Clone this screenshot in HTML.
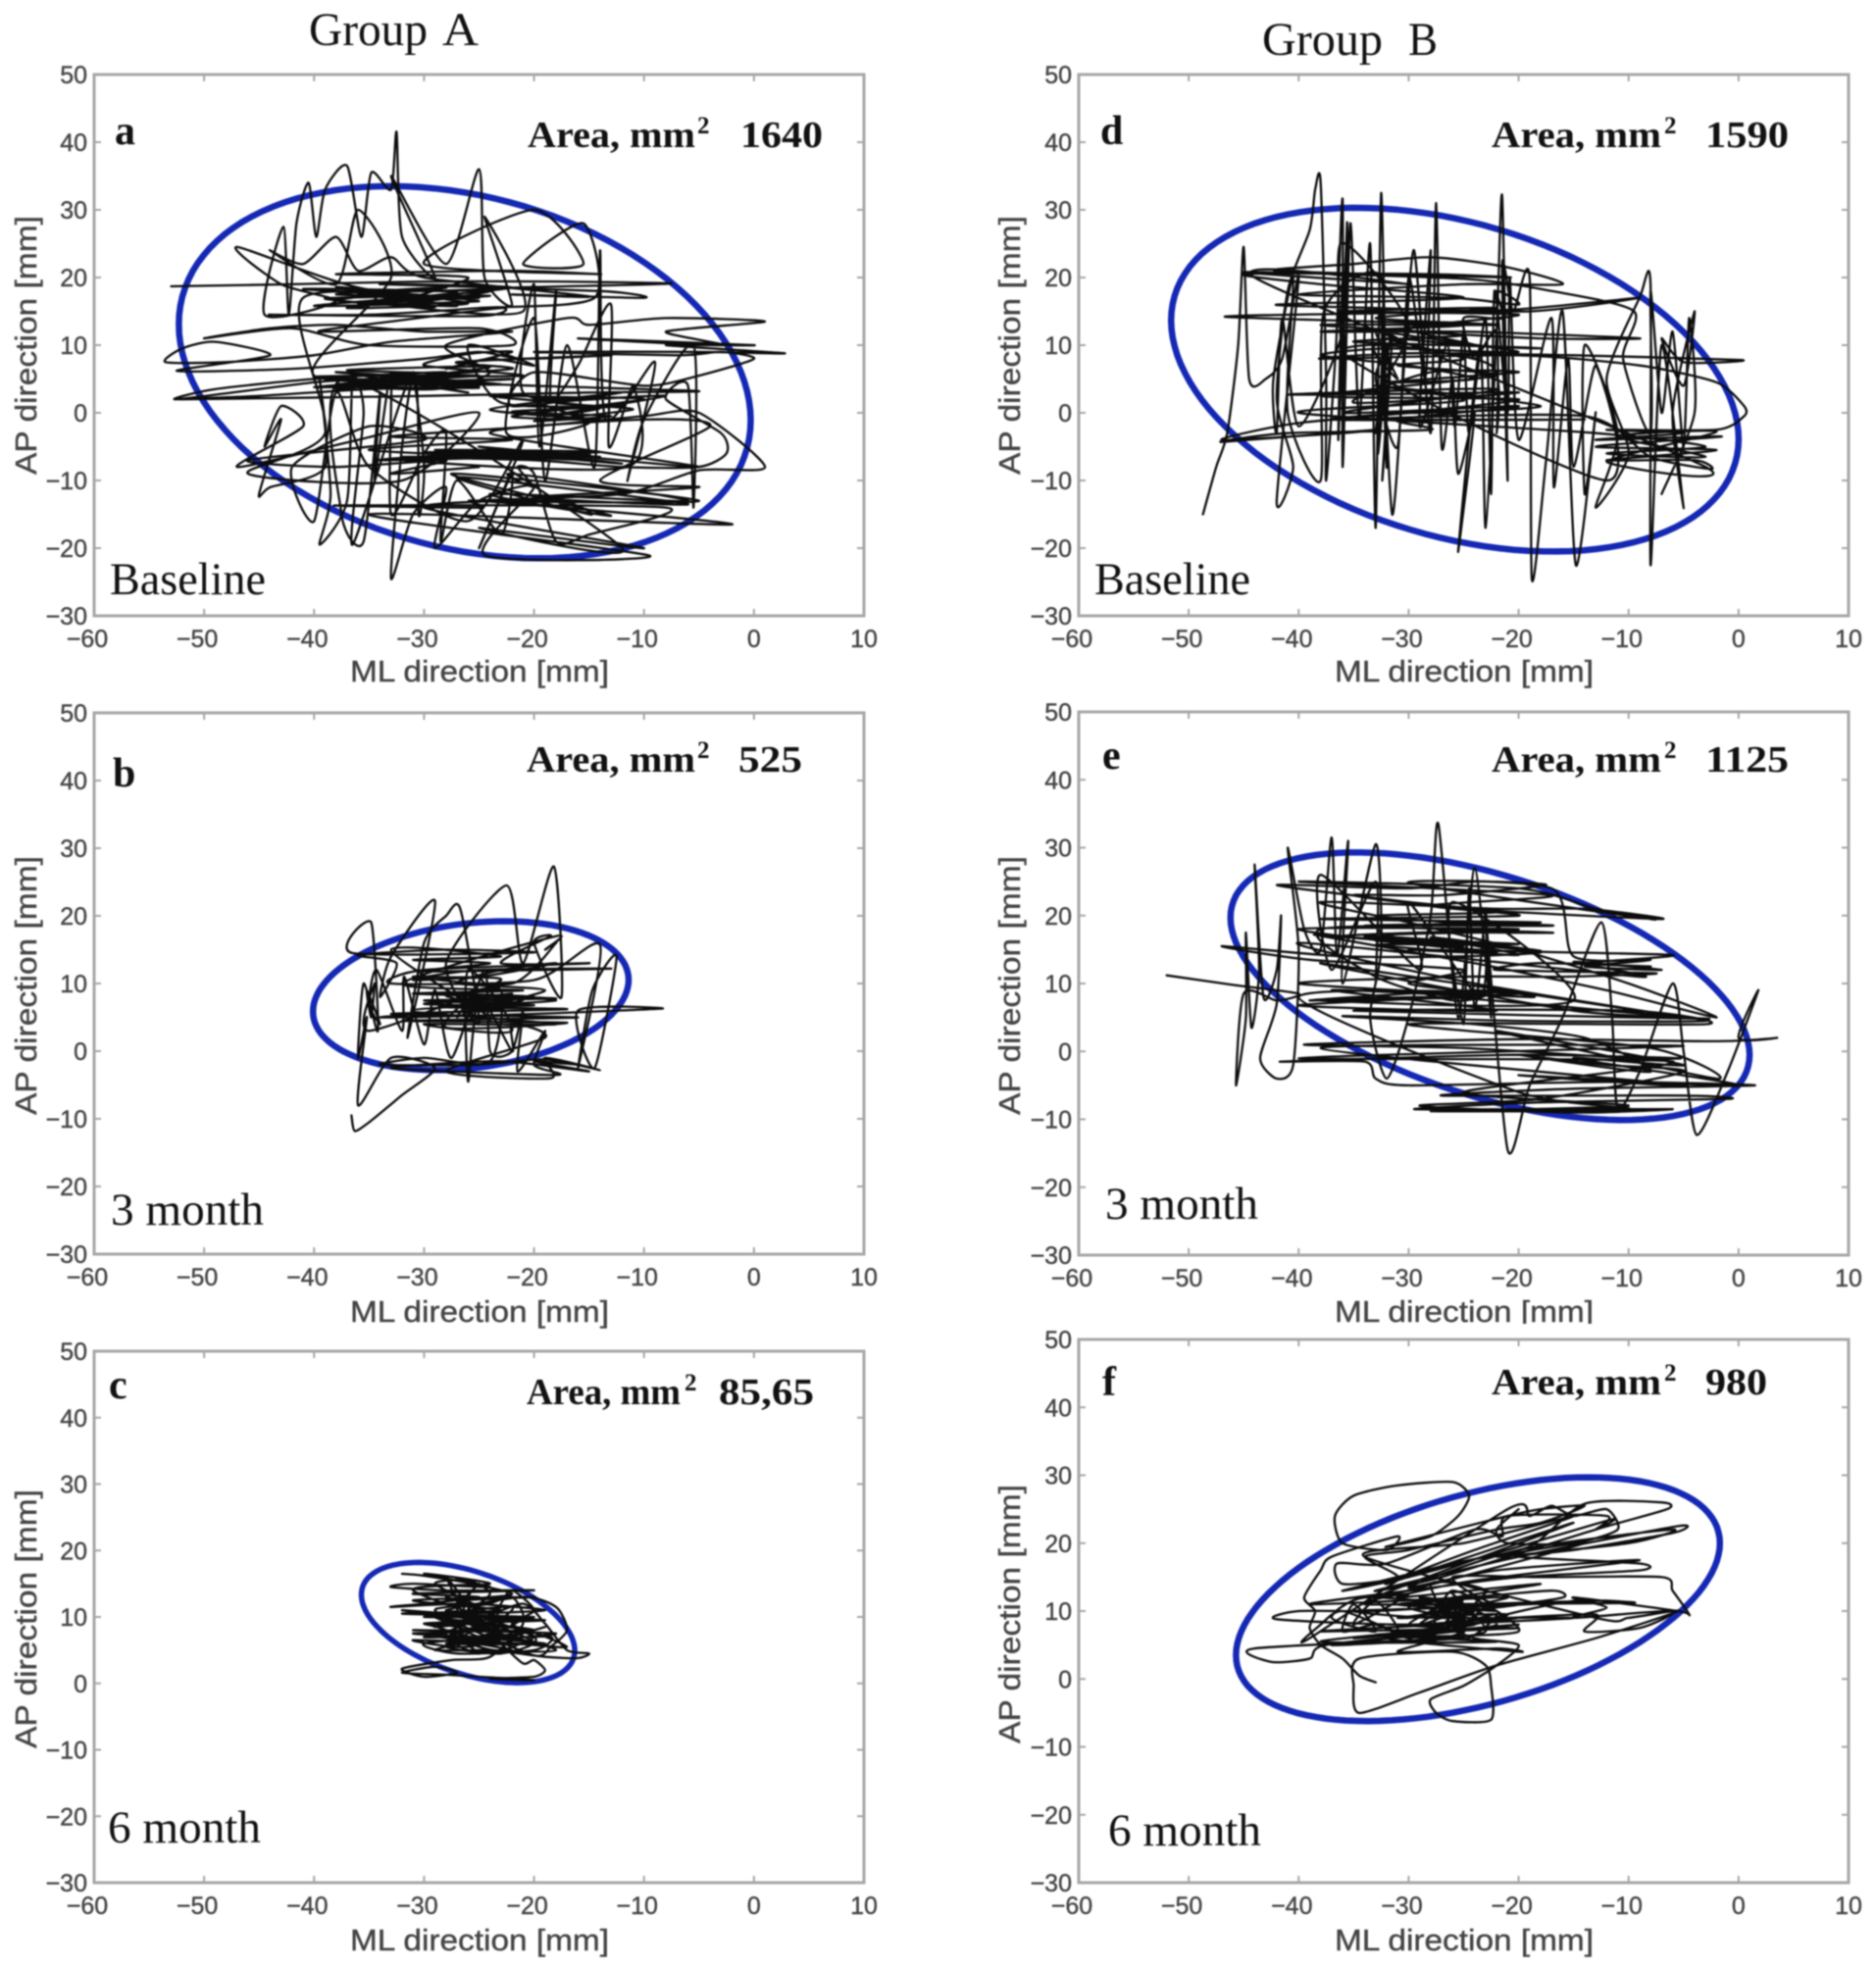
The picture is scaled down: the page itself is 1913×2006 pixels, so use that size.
<!DOCTYPE html>
<html lang="en">
<head>
<meta charset="utf-8">
<title>Stabilometry ellipses, Group A and Group B</title>
<style>
html,body{margin:0;padding:0;background:#fff;}
#figure{display:block;width:1913px;height:2006px;filter:blur(0.7px);}
.tick{font:25px "Liberation Sans",sans-serif;fill:#444;stroke:#444;stroke-width:.4px;}
.axt{font:31px "Liberation Sans",sans-serif;fill:#444;stroke:#444;stroke-width:.4px;}
.grp{font:48px "Liberation Serif",serif;fill:#111;}
.let{font:bold 42px "Liberation Serif",serif;fill:#111;}
.area{font:bold 38px "Liberation Serif",serif;fill:#111;}
.sup{font:bold 25px "Liberation Serif",serif;fill:#111;}
.stage{font:47px "Liberation Serif",serif;fill:#111;}
</style>
</head>
<body>
<svg id="figure" xmlns="http://www.w3.org/2000/svg" width="1913" height="2006" viewBox="0 0 1913 2006">
<rect x="0" y="0" width="1913" height="2006" fill="#fff"/>
<g id="plots"></g>

<g><text class="grp" x="315" y="46" textLength="121" lengthAdjust="spacingAndGlyphs">Group</text><text class="grp" x="451" y="46" textLength="37" lengthAdjust="spacingAndGlyphs">A</text></g>
<g><text class="grp" x="1287" y="56" textLength="123" lengthAdjust="spacingAndGlyphs">Group</text><text class="grp" x="1436" y="56" textLength="30" lengthAdjust="spacingAndGlyphs">B</text></g>

<text class="axt" x="357" y="695" textLength="264" lengthAdjust="spacingAndGlyphs">ML direction [mm]</text>
<text class="axt" x="357" y="1348" textLength="264" lengthAdjust="spacingAndGlyphs">ML direction [mm]</text>
<text class="axt" x="357" y="1989" textLength="264" lengthAdjust="spacingAndGlyphs">ML direction [mm]</text>
<text class="axt" x="1361" y="695" textLength="264" lengthAdjust="spacingAndGlyphs">ML direction [mm]</text>
<text class="axt" x="1361" y="1348" textLength="264" lengthAdjust="spacingAndGlyphs">ML direction [mm]</text>
<text class="axt" x="1361" y="1989" textLength="264" lengthAdjust="spacingAndGlyphs">ML direction [mm]</text>
<rect x="1300" y="1350" width="400" height="8" fill="#fff"/>

<text class="axt" transform="translate(37,484) rotate(-90)" textLength="264" lengthAdjust="spacingAndGlyphs">AP direction [mm]</text>
<text class="axt" transform="translate(37,1137) rotate(-90)" textLength="264" lengthAdjust="spacingAndGlyphs">AP direction [mm]</text>
<text class="axt" transform="translate(37,1783) rotate(-90)" textLength="264" lengthAdjust="spacingAndGlyphs">AP direction [mm]</text>
<text class="axt" transform="translate(1040,484) rotate(-90)" textLength="264" lengthAdjust="spacingAndGlyphs">AP direction [mm]</text>
<text class="axt" transform="translate(1040,1137) rotate(-90)" textLength="264" lengthAdjust="spacingAndGlyphs">AP direction [mm]</text>
<text class="axt" transform="translate(1040,1778) rotate(-90)" textLength="264" lengthAdjust="spacingAndGlyphs">AP direction [mm]</text>

<text class="let" x="117" y="147">a</text>
<text class="let" x="115" y="802">b</text>
<text class="let" x="111" y="1426">c</text>
<text class="let" x="1122" y="147">d</text>
<text class="let" x="1124" y="784">e</text>
<text class="let" x="1124" y="1423">f</text>

<g><text class="area" x="538" y="150" textLength="171" lengthAdjust="spacingAndGlyphs">Area, mm</text><text class="sup" x="711" y="136">2</text><text class="area" x="755" y="150" textLength="84" lengthAdjust="spacingAndGlyphs">1640</text></g>
<g><text class="area" x="537" y="787" textLength="172" lengthAdjust="spacingAndGlyphs">Area, mm</text><text class="sup" x="711" y="773">2</text><text class="area" x="753" y="787" textLength="65" lengthAdjust="spacingAndGlyphs">525</text></g>
<g><text class="area" x="537" y="1432" textLength="157" lengthAdjust="spacingAndGlyphs">Area, mm</text><text class="sup" x="698" y="1418">2</text><text class="area" x="733" y="1432" textLength="97" lengthAdjust="spacingAndGlyphs">85,65</text></g>
<g><text class="area" x="1521" y="150" textLength="173" lengthAdjust="spacingAndGlyphs">Area, mm</text><text class="sup" x="1697" y="136">2</text><text class="area" x="1739" y="150" textLength="85" lengthAdjust="spacingAndGlyphs">1590</text></g>
<g><text class="area" x="1521" y="787" textLength="173" lengthAdjust="spacingAndGlyphs">Area, mm</text><text class="sup" x="1697" y="773">2</text><text class="area" x="1739" y="787" textLength="85" lengthAdjust="spacingAndGlyphs">1125</text></g>
<g><text class="area" x="1521" y="1422" textLength="173" lengthAdjust="spacingAndGlyphs">Area, mm</text><text class="sup" x="1697" y="1408">2</text><text class="area" x="1739" y="1422" textLength="63" lengthAdjust="spacingAndGlyphs">980</text></g>

<text class="stage" x="112" y="606" textLength="159" lengthAdjust="spacingAndGlyphs">Baseline</text>
<text class="stage" x="113" y="1249" textLength="156" lengthAdjust="spacingAndGlyphs">3 month</text>
<text class="stage" x="110" y="1879" textLength="156" lengthAdjust="spacingAndGlyphs">6 month</text>
<text class="stage" x="1116" y="606" textLength="159" lengthAdjust="spacingAndGlyphs">Baseline</text>
<text class="stage" x="1127" y="1243" textLength="156" lengthAdjust="spacingAndGlyphs">3 month</text>
<text class="stage" x="1130" y="1882" textLength="156" lengthAdjust="spacingAndGlyphs">6 month</text>
</svg>
<script>
const xTicks=[-60,-50,-40,-30,-20,-10,0,10];
const yTicks=[-30,-20,-10,0,10,20,30,40,50];
const panelNames=['a','b','c','d','e','f'];

/* ellipse: centre, half extents, x of the top-most point */
const ellipseCx=[-26.3,-25.75,-26,-25.8,-22.6,-23.7];
const ellipseCy=[6,8.2,9.15,4.9,9.6,11.75];
const ellipseRx=[26,14.35,9.7,25.8,23.6,22];
const ellipseRy=[27.5,11,9.05,25.4,19.7,17.95];
const ellipseTopX=[-33,-22.7,-30.5,-34.7,-34.7,-13.6];

const traceA=[[-53,18.7],[-42,19],[-30,19.4],[-18,19.4],[-7.5,19.1],[-20,18.6],[-35,18.2],[-47,24.5],[-43,19],[-38,16.5],[-44.5,14.5],[-42.8,27.5],[-42.3,14.6],[-41.6,28],[-40.5,34],[-39.8,26],[-39,33],[-37,36.5],[-35.7,26],[-34.8,35.5],[-33,33],[-32.5,41.5],[-32,26],[-29,20],[-33,35],[-28,22],[-25,36],[-24.5,20],[-22,16],[-24.5,29],[-21,15],[-35,16.5],[-25,17],[-38,17.5],[-28,18.5],[-38,16.6],[-27,15.8],[-36,17.7],[-24,18],[-33,16],[-26,20],[-38,20.5],[-22,21],[-14,20.5],[-30,22],[-20,30],[-15.5,22],[-21,22],[-15.5,28],[-14.5,17],[-25,15.5],[-35,14.5],[-44,14.5],[-25,14.3],[-23,15.5],[-33,13.5],[-39.5,12],[-25,12.5],[-22,10],[-35,10],[-42,12.5],[-50,11],[-44,12.5],[-38,13],[-30,12],[-22,12],[-33,10.5],[-40,8.5],[-48,7.5],[-53.5,7.5],[-52,9.5],[-49,10.5],[-44,8.5],[-52.5,6.2],[-42,6.5],[-30,8],[-25,9],[-21,8],[-13,8.5],[-27,7.5],[-22,6.5],[-35,5],[-40,4.5],[-52.5,2],[-49,3.5],[-40,5],[-28,6],[-38,3.5],[-30,5],[-38,6],[-25,4],[-35,3.5],[-45,2.5],[-52,2],[-30,2.5],[-15,3],[-5,3.2],[-20,4],[-40,5.3],[-25,5.5],[-38,4.2],[-29,3.5],[-24,6],[-28,10],[-17,14],[-15,13],[-8,14],[1,13.5],[-8,12],[-3,10],[-16,11],[0,10],[-8,10],[2.8,8.8],[-5,9],[-20,9],[-7,8.5],[-3,9],[0,8],[-5,5.5],[-10,4],[-20,6],[-22,1],[-12,3],[-24,0.5],[-14,-1],[-22,-0.5],[-10,2],[-20,2],[-15,-1.5],[-22.5,-3],[-20,14],[-19,-10],[-17,10],[-14.5,-8],[-14,24],[-13.5,-1],[-9,7.5],[-11.5,-10],[-10,-1],[-5.5,10],[-5.5,-14],[-6,4],[-8,2],[-3,-3],[-2.5,-6],[-5,-8],[-12,-8],[-20,-7],[-32,-6.5],[-14,-6.5],[-30,-5.8],[-15,-7],[-35,-5.5],[-22,-4],[-33,-3.5],[-20,-2],[-10,-0.5],[-5,0],[1,-8],[-5,-8.5],[-12,-12],[-25,-13],[-5,-13],[-27.5,-9],[-13,-15.2],[-24,-12],[-6,-13],[-22,-9],[-20,-11],[-21.5,-8],[-20,-9],[-18,-19],[-15,-18],[-8,-14],[-38,-13.7],[-25,-14],[-25,-13],[-2,-16.5],[-35,-15],[-9.5,-21.1],[-24.5,-21],[-20,-11],[-25,-13],[-29,-20],[-28,-11],[-31,-15],[-33,-24.5],[-32,-5],[-31,5],[-30,-8],[-30.5,-15],[-31,6],[-36.5,-19.5],[-35.5,0],[-36.5,5],[-37,-13],[-39.5,-19.5],[-38.5,-12],[-39.5,5],[-39,-8],[-44,-11],[-45,-12],[-43,-1],[-44.5,-5],[-43,1],[-41,-2],[-47,-8],[-36,-4],[-25,0],[-32,-10],[-46,-9],[-39,-3],
[-41,17],[-25,16.5],[-40,15.8],[-27,17.8],[-41,18.3],[-30,17],[-37,15.5],[-26,16.2],[-38,18.6],[-29,15.6],[-39,16.9],[-24,17.3],[-36,16.2],[-22,18.5],[-34,19],[-14,18],[-10,17],[-22,17.5],[-15,17.2],[-30,20],[-33,23],[-36,21],[-38,26],[-41,22],[-44,24],[-38,19],[-36,30],[-33,20],
[-40,5.5],[-22,5],[-38,4],[-25,3.7],[-39,5],[-28,4.4],[-40,3.8],[-27,5.6],[-37,6.3],[-24,6.8],[-34,4.5],[-23,4.2],[-36,5.7],[-26,3],[-33,5.2],[-21,5.5],[-30,7],[-26,8.7],[-22,9],[-28,6.5],[-24,8],[-20,7],[-26,10],
[-23,1.5],[-12,1],[-22,0.2],[-13,-0.5],[-20,-1.2],[-11,0.5],[-18,1.5],[-8,2.5],[-19,-0.5],[-14,0.8],[-24,2.5],[-13,2.2],[-21,3],
[-20,19],[-19.5,-5],[-18,18],[-18.5,2],[-16,7],[-13,16],[-13.2,-5],[-11,4],[-11.5,-8],
[-33,-6.8],[-14,-5.8],[-29,-5.5],[-15,-6.2],[-34,-7],[-24,-6],[-12,-7.5],[-25,-5],[-5,-8],[-24,-3],[-10,-1],[-4,-2],
[-14,-10],[-5,-11],[-20,-12.5],[-6,-13.5],[-27,-9.5],[-15,-15],[-18,-13],[-30,-14],[-10,-20],[-25,-17],[-12,-20],
[-37,5],[-37.5,-15],[-35.5,-19],[-34,3],[-34.5,-10],[-33,6],[-33,-15],[-30,-6],[-28,-3],[-28.5,-19],[-27,-10],[-23,-18],[-22,-9],[-25,-20],[-21,-4],[-26,-16],[-35,-8],[-38,3],[-40,-16],[-42,-8],[-35,-2],[-30,-4],[-46,-7],[-38,-8],[-28,-7],[-33,-9],[-25,-8]];

const traceB=[[-36.6,-9.5],[-36.3,-11.8],[-35,-10.5],[-32,-6.5],[-29,-2.5],[-33,-1],[-36,-8],[-35.2,5],[-36,-1],[-35.5,10],[-34.2,3],[-34.8,19],[-36.5,14.5],[-20,14.6],[-28,15],[-36,14.2],[-32.5,13],[-34,8],[-33,14],[-29,22.2],[-31.5,2],[-30,16],[-28,20],[-26.7,21],[-25,4],[-28,13],[-22.5,24.5],[-21,13],[-18.2,27.3],[-17.5,8],[-20,16],[-18.5,17],[-23,13],[-15,13],[-30,12],[-33,10],[-20,10.5],[-14,15.7],[-16,-2.5],[-14.7,9],[-12.5,14],[-14.5,-2.5],[-16,6],[-8.3,6.3],[-20,5.5],[-34,5],[-22,6.5],[-30,7],[-20,8],[-29,8.5],[-18,7.5],[-31,6],[-18,4],[-30,4],[-22,3],[-26,12],[-26,-4.5],[-25,8],[-22,0],[-22,4],[-19,2],[-28,-3],[-18.5,-4],[-19,-1],[-14,-2.8],[-19,-1.2],[-25,-2],[-34,-2],[-30,-1],[-24,-1.5],[-23,9],[-27,8],[-21,7],[-26,6],[-19,9],[-27,10],[-23,12],[-18,13],[-25,11],[-31,11],[-22,10],[-18,16],[-19,15],[-18,17],
[-32,10],[-21,9],[-31,8.5],[-18,7.8],[-30,7.5],[-20,6.8],[-28,6.5],[-17,6.2],[-33,5.5],[-16,5],[-32,4.5],[-17,4.2],[-28,3.5],[-25,9],[-27,5],[-24,8],[-26,7],[-22,7],[-27,7.5],[-22,8.5],[-29,7],[-23,6],[-28,8.2],[-21,7.6],[-26,6],[-24,5],
[-33,15],[-23,14],[-31,13.5],[-24,13],[-30,11.8],[-13,12.2],[-25,12],[-31,10.5],[-23,10.5],
[-35,3],[-34.5,10],[-34.8,5],[-35.2,9],[-34,4],[-35,7],[-34.3,12],[-32,3],[-31.8,11],[-30,1],[-29,9],
[-27.5,-1],[-24.5,12],[-24,0],[-22,0],[-21,6],[-21.5,-3],[-19,3],[-20,-2],[-18,-3.5],[-33,-2.5],[-23,-1.5],[-15,-3],[-20,-1.5],[-16,-2]];

const traceC=[[-32,16.5],[-30,16.2],[-24,14.5],[-31,15],[-33,14.5],[-28,14],[-20,14],[-31,13.5],[-25,13],[-30,12],[-33,11.5],[-26,12],[-19,11],[-27,10.5],[-32,11],[-25,9.5],[-29,8.5],[-20,10],[-30,10],[-22,11.5],[-25,8],[-31,7.5],[-23,7],[-19,8.5],[-26,5.5],[-31,6.5],[-22,6],[-17,5.5],[-22,8.5],[-28,7],[-20,6],[-24,9],[-28,9.5],[-22,7.5],[-30,6],[-27,4.5],[-20,5],[-18.5,7],[-25,6.5],[-29,5],[-24,5],[-19,4],[-16,3.8],[-15,4.5],[-17,5],[-19,9],[-21,12],[-25,10],[-27,14],[-28,16],[-27,12],[-29,11],[-26,8],[-23,10],[-21,9],[-24,4],[-27.5,3.5],[-32,2.2],[-30,1],[-27,1.6],[-29,2.5],[-32,1.6],[-28,1.3],[-25,1],[-20,0.5],[-24,0.7],[-20,1],[-19,2],[-20,3.5],[-21,3],[-23,6],[-26,11],[-24,12],[-22,13],[-21,10],[-23,8],[-27,6],[-25,4.5],[-28,8],[-30,9],[-27,8.5],[-25,7],[-21,6.5],[-24,7],[-28,5.5],[-23,4.5],[-20,7],
[-31,14],[-24,15],[-30,16.5],[-22,13.5],[-28,12.5],[-20,13],[-31,12.5],[-23,11],[-32,10.5],[-21,10],[-30,9],[-19,9.5],[-29,10],[-20,8],[-31,8],[-18,7.5],[-28,6],[-19,6],[-29,7.2],[-22,5],[-27,5],[-18,5],[-26,9],[-26,13],[-25,15],[-27,11],[-24,8],[-23,12],[-22,14],[-20,11],[-22,9],[-20,7],[-23,5],[-25,5.5],[-28,7.5],[-24,10.5],[-28,11],[-21,13],[-18,11.5],[-17,8],[-18.5,5.5],[-20,4.2],[-27,9],[-30,10.7],[-26,7.5],[-30,7],[-23,9.5],[-28,13],[-25,11.5],[-29,15],[-26,15.5],[-24,13.5],[-26,10],[-22,6.5],[-24,6],[-21,8],[-25,8.7],[-27,6.8],[-23,7.5]];

const traceD=[[-48.7,-15],[-47.5,-8],[-46.5,-3],[-45.5,10],[-45,24.5],[-44.5,5],[-43,5],[-41.5,8],[-40,20],[-42,-13],[-40.5,-8],[-42,2],[-41,18],[-39,27],[-38.5,33],[-38,34],[-37.5,5],[-37.5,-10],[-36.6,10],[-36,31.5],[-36,-8],[-35.3,28],[-34.5,-1],[-33.5,25],[-33,-17],[-32.5,32.5],[-32,-8],[-32.5,15],[-31.5,-15],[-30.5,5],[-29.5,24],[-28,-3],[-27.5,31],[-27,-5],[-26,5],[-25.5,-9],[-24,0],[-25.5,-20.5],[-23.5,10],[-23,-17],[-22,12],[-21.5,32],[-21,-10],[-21.5,22],[-20.5,15],[-19,20],[-18.8,-24.5],[-17.5,-7],[-16,15],[-14.8,-22.5],[-13,0],[-14,-12],[-14,10],[-11,-3],[-13,-14],[-10,-6],[-12,5],[-9,17],[-8,19],[-8,-22.5],[-7,10],[-5,-14],[-6,0],[-4,15],[-5,4],[-7,11],[-5,7.5],[0.3,7.8],[-15,8.5],[-30,8.8],[-38,8],[-20,8.5],[-9,7],[-2,4.5],[0.5,1],[0.5,-0.5],[-2,-2.5],[-12,-2.5],[-5,-3],[-13,-4],[-1.5,-3.5],[-13,-5],[-2,-5.5],[-12,-7],[-4,-7],[-2.5,-8.3],[-8,-6.5],[-14,-0.5],[-35,-1],[-14,-1],[-37,-1],[-26,0.5],[-40,-1.5],[-47,-4],[-36,-3],[-33,-2.5],[-47,-4.3],[-41,-3],[-28,-2.5],[-31,-1],[-20,1],[-36,0],[-22,3.5],[-41,2.7],[-30,2.8],[-20,3],[-35,1.5],[-28,6],[-20,6],[-32,4.5],[-24,5],[-30,7],[-38,8.5],[-32,9.5],[-20,9],[-32,12],[-18,11],[-9,11],[-25,12],[-38,12],[-25,13],[-46.7,14.2],[-30,14.8],[-20,15.3],[-9,17],[-19,15],[-33,15.5],[-42,16],[-25,17],[-38,19],[-45,20.5],[-28,20.5],[-21,20],[-42,21],[-35,22],[-28,23],[-21,21.5],[-16,19],[-25,19],[-40,17.5],[-26,17],[-20,16],[-22,18],[-21.5,14],[-25,14],[-24,8],[-22,12],[-22,-3],[-22.5,7],[-33,10],[-31,5],[-33,12],[-30.5,10],[-33,3],[-30,13],
[-36.2,25],[-35.8,2],[-36,20],[-36.4,-4],[-35.6,28],[-36,12],[-40,-2],[-41.5,14],[-42,-3],[-42.3,5],[-40.5,20],[-41,0],[-38,-10],[-37.7,15],[-32.5,20],[-32.8,-6],[-32,10],[-33,-3],[-31.5,12],[-32.4,-10],[-31.8,8],[-33,5],[-31,-5],[-30,20],[-28.5,5],[-28,24],[-29,-2],[-26.5,10],[-25.8,-2],[-25,12],[-24.5,-3],[-23,14],[-22.5,-12],[-22.2,18],[-21,0],[-20.8,20],[-20,-4],[-17,14],[-16.8,-11],[-15.5,8],[-15,-8],[-13,7],[-12,-10],
[-36,9],[-18,9.5],[-35,10.5],[-25,11.5],[-38,13],[-22,13],[-33,14],[-22,15.5],[-36,15],[-20,14.5],[-30,12.5],[-24,10],[-32,11],[-25,8],[-31,7],[-22,5.5],[-38,2.5],[-20,2],[-30,0],[-18,1],[-33,4],[-25,1.8],[-40,0],
[-13,-3],[-3,-5],[-12,-6],[-3,-6.5],[-11,-3.5],[-2,-2.8],[-12,-7.2],[-3,-8],[-44,20],[-30,19],[-45,20.8],[-25,19.8],[-17,18],
[-9.5,15],[-10.5,8],[-8,-3],[-8,18],[-7,0],[-6,12],[-5,-5],[-4.5,14],[-4,0],[-7,-12]];

const traceE=[[-52,11.2],[-46,9.8],[-40,8.5],[-42,7.5],[-45,8.5],[-45.7,-5],[-44.8,5],[-44.8,17.5],[-44.3,3.5],[-43.6,12],[-44,27.5],[-43.2,8],[-42,12],[-41.6,20],[-42,7],[-43.5,-1],[-42,-4],[-40.5,-2],[-40,15],[-41,30],[-39.5,18],[-38,15],[-37,31.5],[-36.5,14],[-35.5,31],[-36,10],[-33,30.5],[-32.5,15],[-33.5,5],[-32,-4],[-30,5],[-28,20],[-27.3,33.5],[-25.5,5],[-24,27],[-22.5,5],[-23,20],[-21,-14.5],[-19,-5],[-16,5],[-12.5,19],[-11.5,5],[-11,-8.5],[-9,-3],[-6,10],[-5,0],[-3.8,-12.3],[-1,-3],[1.8,9],[0,2],[3.5,2],[-2,1.5],[-20,1.8],[-39.5,1],[-25,0.5],[-10,-1],[-5.5,-1],[-20,-0.5],[-41.5,-1.5],[-34,-1.5],[-33,-4],[-30,-5],[-12,-4.5],[1.5,-5],[-15,-5.5],[-27,-6.5],[-5,-6.5],[-1,-7],[-18,-7.5],[-29.5,-8.5],[-18,-8.5],[-6,-8.5],[-15,-9],[-29,-8],[-18,-7],[-5,-3],[-12,-2],[-20,-0.5],[-8,-3],[-14,2],[-24,4],[-36,5.2],[-20,4.5],[-3,4.5],[-12,6],[-27,8],[-39,7.5],[-24,9],[-19,8],[-40,10],[-25,11],[-16,11],[-7.5,11.5],[-22,12],[-18,13],[-8,12.5],[-14,13],[-6,14.2],[-24,15],[-40,18],[-20,18],[-36,17],[-25,15.5],[-33,16.3],[-24,16],[-34,17],[-22,14.5],[-30,15],[-18,14.6],[-25,14],[-36,14],[-47,15.5],[-39,13.5],[-25,12],[-30,10],[-23,8.5],[-26,7.5],[-33,11],[-38,18],[-17,18.5],[-26,19],[-33,20],[-22,20.5],[-30,22],[-42,24.5],[-30,24],[-24,25],[-17.5,24.5],[-27,23],[-35,23],[-25,21],[-7,19.5],[-14,21],[-22,21],[-38,22],[-30,19],[-20,15],[-10,10],[-2,5],[-12,9],[-24,13],[-38,17],
[-36,16.8],[-20,15.8],[-33,15.7],[-20,14.2],[-28,16.8],[-18,14.8],[-32,17],[-24,17.5],[-17,17.5],[-34,18.5],[-18,19],[-38,19.5],[-20,20],[-28,21.5],[-17,23],[-40,25],[-20,24],[-13,21],[-8,19.5],[-30,24.8],[-17,24],
[-15,14],[-8,13.5],[-14,12.5],[-7,12],[-15,13.2],[-9,11],
[-40,16],[-24,10],[-5,5],[-38,13],[-15,6],[-3,4.8],[-35,6],[-10,6],[-3,4],[-30,4],[-8,0.5],[-2,-4],[-22,3],[-5,-2],[-15,-1],[0,-5],[-20,-3.5],[-5,-5],[-38,0.5],[-5,0.8],[-40,-1],[-6,-1.5],[-25,-6],[-10,-8],[-28,-8.8],[-10,-8.5],[-20,-6],
[-40,8],[-20,8.5],[-40,6.8],[-22,6],[-37,9],[-24,8],[-38,7.5],[-15,7.5],
[-26,22],[-25,4],[-24.5,24],[-24,6],[-23,21],[-23.5,8],[-30,22],[-29,12],[-38,26],[-37,12],[-33,25],[-33,10]];

const traceF=[[-33,-0.5],[-34.5,0.5],[-36,3],[-38,5],[-39,7.5],[-38.5,10],[-39.5,12],[-38,16],[-37,18],[-31,21],[-32,19],[-36,20],[-36.7,24],[-35,27],[-31,28.5],[-26,29],[-24.5,27],[-25.5,24],[-28,21],[-32,19.5],[-21,24],[-18,25],[-14,25.5],[-18,23],[-22,22],[-30,19],[-34,18],[-31,15],[-36,14],[-36.5,17],[-32,17],[-24,22],[-21.5,21],[-21,24],[-12,24],[-13,22],[-11.5,23.5],[-21,19],[-30,15],[-36,13],[-26,17],[-19,19.5],[-14,25.8],[-7,26],[-6.5,25],[-13,22],[-27,15],[-33,13],[-20,18],[-5.5,22.5],[-6,21.5],[-15,19],[-20,18],[-9,17],[-9,16],[-20,15],[-30,13],[-39,11],[-25,12],[-17,13],[-16,12],[-22,11],[-26,15],[-18,15],[-7,15],[-6,13],[-4.5,9.5],[-5.5,10],[-15,12],[-12,10.5],[-15,9],[-6,10],[-9,7.5],[-14,7],[-13,9.5],[-22,9],[-15,11.5],[-9.5,11.2],[-22,11],[-33,10],[-40,10],[-42,8.8],[-30,8],[-20,9],[-35,6],[-20,8],[-37,5],[-25,6],[-44,4.5],[-42.5,2.5],[-39,3],[-37.5,5],[-25,7],[-31,4],[-22,4.5],[-20,4],[-32,6],[-20,7],[-26,13],[-28,6],[-25,12],[-30,8],[-24,8],[-29,11],[-22,10],[-31,11],[-21,12],[-30,9],[-27,10],[-25,9],[-29,12],[-25,11],[-34,12],[-37,9],[-33,7],[-35,11],[-36,7],[-33,8],[-30,6],[-27,7.5],[-22,9.5],[-25,6],[-28,14],[-23,13],[-26,8],[-24,6],[-20,5],[-22,2],[-25,-1],[-28,-3],[-27.5,-5],[-26,-6.2],[-22.5,-6],[-22.5,-1],[-23,2],[-26,4],[-34.5,3],[-35,-1],[-34.5,-5],[-29,-2],[-22,2],[-13,6],[-5.5,10],[-10,9],[-13,9],
[-34,18],[-25,20],[-15,24],[-24,19],[-32,14],[-15,23],[-33,12],[-14,20],[-22,18],[-10,20],[-6,22],[-20,19],[-30,13.5],[-22,16],[-9,17.5],[-24,14.5],[-31,12],[-18,14],[-29,11],[-13,11.5],[-26,10.5],[-35,10],[-28,9],[-15,9],[-27,8],[-38,7],[-20,7.5],[-33,6.5],[-22,5.5],[-38,5.5],[-25,8],[-30,10.5],[-26,11.5],[-22,8],[-28,7],[-24,10],[-27,9],[-25,12],[-29,8],[-23,11],[-26,7],[-25,9.5],[-28,10],[-24,9],[-26,12.5],[-23,7],[-29,6],[-21,9.5],[-31,9],[-20,11],[-34,11],[-30,12.5],[-35,8],[-33,11.5],[-31,7],[-36,10],[-38,8],[-39,6],
[-21,25],[-19,24],[-17,25.5],[-15,24],[-12,25],[-11,22],[-15,20],[-21,20],[-22,22],[-20,25]];

const traces=[traceA,traceB,traceC,traceD,traceE,traceF];

/* layout only: axis box of each panel in page pixels */
const panelBoxes=[
  {l:96,r:881,t:76,b:628},
  {l:96,r:881,t:727,b:1279},
  {l:96,r:881,t:1378,b:1920},
  {l:1100,r:1885,t:76,b:628},
  {l:1100,r:1885,t:726,b:1280},
  {l:1100,r:1885,t:1366,b:1920}
];

const SVG_NS='http://www.w3.org/2000/svg';
const plots=document.getElementById('plots');

function scaleX(box,v){return box.l+(v+60)/70*(box.r-box.l);}
function scaleY(box,v){return box.b-(v+30)/80*(box.b-box.t);}
function node(tag,attrs,parent){
  const el=document.createElementNS(SVG_NS,tag);
  for(const k in attrs){el.setAttribute(k,attrs[k]);}
  parent.appendChild(el);
  return el;
}
function label(v){return String(v).replace('-','\u2212');}
function smoothPath(p){
  const k=0.12;
  let d='M'+p[0][0].toFixed(1)+' '+p[0][1].toFixed(1);
  for(let i=0;i<p.length-1;i++){
    const a=p[Math.max(i-1,0)],b=p[i],c=p[i+1],e=p[Math.min(i+2,p.length-1)];
    d+='C'+(b[0]+(c[0]-a[0])*k).toFixed(1)+' '+(b[1]+(c[1]-a[1])*k).toFixed(1)+' '
      +(c[0]-(e[0]-b[0])*k).toFixed(1)+' '+(c[1]-(e[1]-b[1])*k).toFixed(1)+' '
      +c[0].toFixed(1)+' '+c[1].toFixed(1);
  }
  return d;
}

panelNames.forEach(function(name,i){
  const box=panelBoxes[i];
  const g=node('g',{},plots);
  
  

  const frame=node('rect',{x:box.l,y:box.t,width:box.r-box.l,height:box.b-box.t,fill:'none',stroke:'#a6a6a6','stroke-width':3},g);
  
  

  xTicks.forEach(function(v){
    const x=scaleX(box,v);
    const t1=node('line',{x1:x,x2:x,y1:box.b,y2:box.b-7,stroke:'#a6a6a6','stroke-width':2},g);
    
    
    const t2=node('line',{x1:x,x2:x,y1:box.t,y2:box.t+7,stroke:'#a6a6a6','stroke-width':2},g);
    
    
    const tx=node('text',{x:x-(v<0?7:0),y:box.b+32,'text-anchor':'middle','class':'tick'},g);
    
    
    tx.textContent=label(v);
  });
  yTicks.forEach(function(v){
    const y=scaleY(box,v);
    const t1=node('line',{x1:box.l,x2:box.l+7,y1:y,y2:y,stroke:'#a6a6a6','stroke-width':2},g);
    
    
    const t2=node('line',{x1:box.r,x2:box.r-7,y1:y,y2:y,stroke:'#a6a6a6','stroke-width':2},g);
    
    
    const tx=node('text',{x:box.l-7,y:y+9,'text-anchor':'end','class':'tick'},g);
    
    
    tx.textContent=label(v);
  });

  const phase=Math.acos((ellipseTopX[i]-ellipseCx[i])/ellipseRx[i]);
  const ringPts=[];
  for(let deg=0;deg<360;deg+=3){
    const t=deg*Math.PI/180;
    const ex=ellipseCx[i]+ellipseRx[i]*Math.cos(t);
    const ey=ellipseCy[i]+ellipseRy[i]*Math.cos(t-phase);
    ringPts.push(scaleX(box,ex).toFixed(1)+','+scaleY(box,ey).toFixed(1));
  }
  const ring=node('polygon',{points:ringPts.join(' '),fill:'none',stroke:'#1428b4','stroke-width':i===2?5.5:6.5},g);
  
  

  const pix=traces[i].map(function(p){return [scaleX(box,p[0]),scaleY(box,p[1])];});
  const line=node('path',{d:smoothPath(pix),fill:'none',stroke:'#0c0c0c','stroke-width':2.3,'stroke-linejoin':'round','stroke-linecap':'round'},g);
  
  
});
</script>
</body>
</html>
